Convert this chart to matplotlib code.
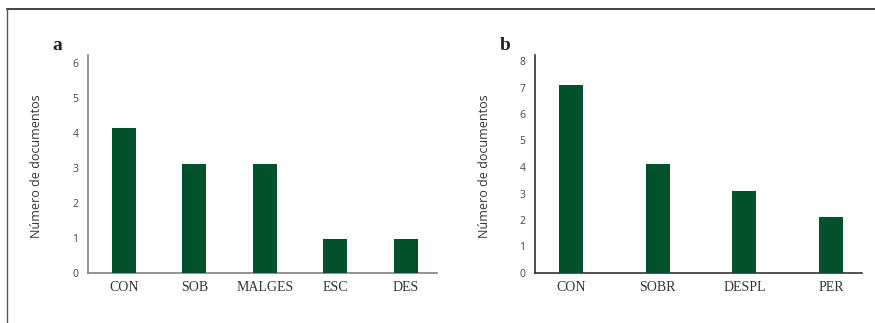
import matplotlib
matplotlib.use('Agg')
import matplotlib.pyplot as plt
from matplotlib.lines import Line2D
import numpy as np

# panel a
cats_a = ['CON', 'SOB', 'MALGES', 'ESC', 'DES']
vals_a = [4.14, 3.11, 3.11, 0.97, 0.97]
ticks_a = [0, 1, 2, 3, 4, 5, 6]

# panel b
cats_b = ['CON', 'SOBR', 'DESPL', 'PER']
vals_b = [7.09, 4.11, 3.09, 2.11]
ticks_b = [0, 1, 2, 3, 4, 5, 6, 7, 8]

bar_color = '#02512c'
W, H = 875, 323

fig = plt.figure(figsize=(W / 100, H / 100), dpi=100)

def make_panel(rect, cats, vals, ticks, ytop, xlim, width, spine_color, letter, letter_x, ylabel_x):
    ax = fig.add_axes(rect)
    x = np.arange(len(cats))
    ax.bar(x, vals, width=width, color=bar_color, zorder=3)
    ax.set_xlim(*xlim)
    ax.set_ylim(0, ytop)
    ax.set_yticks(ticks)
    ax.set_yticklabels([str(t) for t in ticks], family='Open Sans', fontsize=7.5, color='#444444')
    ax.set_xticks(x)
    ax.set_xticklabels(cats, family='Liberation Serif', fontsize=10, color='#333333')
    ax.tick_params(axis='y', length=0, pad=7)
    ax.tick_params(axis='x', length=0, pad=6)
    for s in ['top', 'right']:
        ax.spines[s].set_visible(False)
    for s in ['left', 'bottom']:
        ax.spines[s].set_color(spine_color)
        ax.spines[s].set_linewidth(1.2)
    fig.text(ylabel_x / W, 1 - 166 / H, 'Número de documentos', rotation=90,
             ha='center', va='center', family='Open Sans', fontsize=9, color='#333333')
    fig.text(letter_x / W, 1 - 45 / H, letter, ha='center', va='center',
             family='Liberation Serif', fontweight='bold', fontsize=14, color='#222222')
    return ax

make_panel([88 / W, 50 / H, 349 / W, 218 / H], cats_a, vals_a, ticks_a, 218 / 35,
           (-0.51, 4.44), 0.34, '#808080', 'a', 57, 37)
make_panel([535 / W, 50 / H, 327 / W, 218 / H], cats_b, vals_b, ticks_b, 218 / 26.5,
           (-0.42, 3.36), 0.28, '#333333', 'b', 505, 485)

# outer frame (top and left only)
fig.add_artist(Line2D([7 / W, 1], [1 - 9 / H, 1 - 9 / H], color='#222222', lw=1.2))
fig.add_artist(Line2D([7 / W, 7 / W], [0, 1 - 9 / H], color='#555555', lw=1.0))

fig.savefig('out.png', dpi=100)
